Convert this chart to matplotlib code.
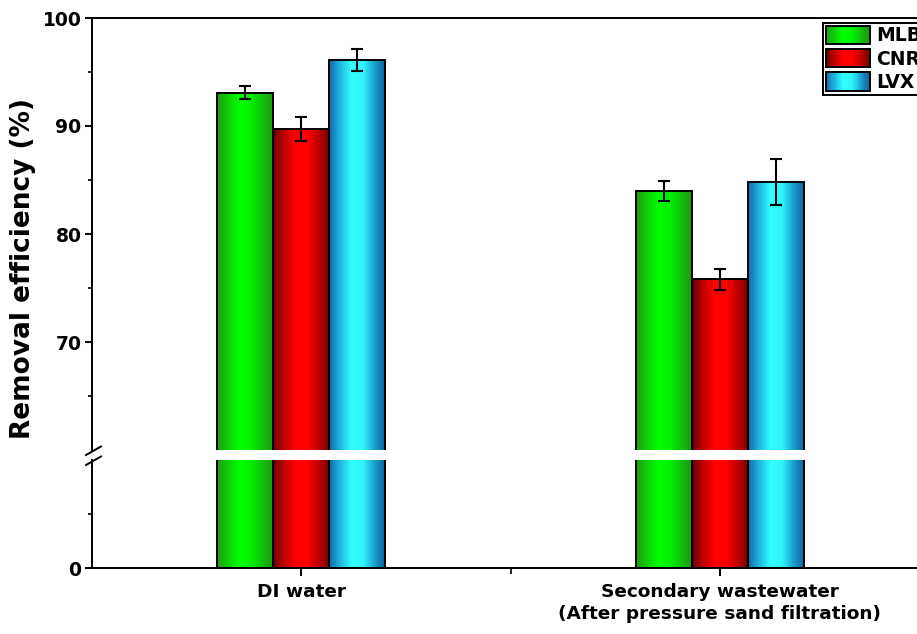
import numpy as np
import matplotlib
matplotlib.use("Agg")
import matplotlib.pyplot as plt
from matplotlib.patches import Rectangle
from matplotlib.legend_handler import HandlerBase
from matplotlib.colors import LinearSegmentedColormap

plt.rcParams["font.family"] = ["DejaVu Sans"]
plt.rcParams["font.weight"] = "bold"
plt.rcParams["axes.labelweight"] = "bold"

# ---- data ----
categories = ["DI water", "Secondary wastewater\n(After pressure sand filtration)"]
series = ["MLB", "CNR", "LVX"]
mlb = [93.1, 84.0]
mlb_err = [0.6, 0.9]
cnr = [89.7, 75.8]
cnr_err = [1.1, 1.0]
lvx = [96.1, 84.8]
lvx_err = [1.0, 2.1]
upper_ticks = [70, 80, 90, 100]
lower_ticks = [0]

values = [mlb, cnr, lvx]
errors = [mlb_err, cnr_err, lvx_err]

# cylindrical shading: dark edge -> bright middle -> dark edge
shades = {
    "MLB": ["#1e9a10", "#10d008", "#00ff00", "#00f000", "#12c00a", "#1e9410"],
    "CNR": ["#6a0000", "#c00000", "#ff0000", "#ff0000", "#c00000", "#700000"],
    "LVX": ["#1466a8", "#1fb8e0", "#33ffff", "#30f4fa", "#1aa0d0", "#0a5e98"],
}
cmaps = {k: LinearSegmentedColormap.from_list(k, v) for k, v in shades.items()}

fig = plt.figure(figsize=(9.17, 6.34), dpi=100)
W, H = 917, 634
left, right = 92 / W, 929 / W
ax_up = fig.add_axes([left, 1 - 450 / H, right - left, (450 - 18) / H])
ax_lo = fig.add_axes([left, 1 - 568 / H, right - left, (568 - 460) / H])

x = np.arange(1, len(categories) + 1)
width = 0.134
offsets = [-width, 0.0, width]
grad = np.linspace(0, 1, 256).reshape(1, -1)

for ax in (ax_up, ax_lo):
    for name, vals, errs, off in zip(series, values, errors, offsets):
        bars = ax.bar(x + off, vals, width, facecolor="none", edgecolor="black",
                      linewidth=1.4, zorder=3)
        for p in bars:
            x0, y0 = p.get_x(), p.get_y()
            ax.imshow(grad, cmap=cmaps[name], aspect="auto", zorder=2,
                      extent=[x0, x0 + p.get_width(), y0, y0 + p.get_height()],
                      interpolation="bilinear")
        ax.errorbar(x + off, vals, yerr=errs, fmt="none", ecolor="black",
                    elinewidth=1.5, capsize=4.5, capthick=1.5, zorder=4)
    ax.set_xlim(0.5, 2.5)
    for s in ax.spines.values():
        s.set_linewidth(1.4)
    ax.tick_params(axis="both", which="major", direction="out", length=5,
                   width=1.4, labelsize=13.5, pad=2.5)
    ax.tick_params(axis="both", which="minor", direction="out", length=3, width=1.2)

ax_up.set_ylim(60, 100)
ax_up.set_yticks(upper_ticks)
ax_up.set_yticks([65, 75, 85, 95], minor=True)
ax_up.spines["bottom"].set_visible(False)
ax_up.tick_params(axis="x", which="both", bottom=False, labelbottom=False)

ax_lo.set_ylim(0, 10)
ax_lo.set_yticks(lower_ticks)
ax_lo.set_yticks([5], minor=True)
ax_lo.spines["top"].set_visible(False)
ax_lo.set_xticks(x)
ax_lo.set_xticklabels(categories, fontsize=13.3, fontweight="bold", linespacing=1.3)
ax_lo.set_xticks([1.5], minor=True)
ax_lo.tick_params(axis="x", which="major", length=6, pad=5)
ax_lo.tick_params(axis="x", which="minor", length=4)

# break marks on the y axis
for yb in (450, 460):
    yf = 1 - yb / H
    fig.add_artist(plt.Line2D([left - 6 / W, left + 9 / W],
                              [yf - 5 / H, yf + 3.5 / H],
                              color="black", lw=1.4))

fig.text(23.5 / W, 1 - 268.5 / H, "Removal efficiency (%)", rotation=90,
         ha="center", va="center", fontsize=19, fontweight="bold")


class GradientHandler(HandlerBase):
    def __init__(self, cmap):
        super().__init__(xpad=0.0, ypad=0.0)
        self.cmap = cmap

    def create_artists(self, legend, orig_handle, xdescent, ydescent,
                       width, height, fontsize, trans):
        n = 40
        arts = []
        for i in range(n):
            arts.append(Rectangle((-xdescent + width * i / n, -ydescent),
                                  width / n * 1.1, height,
                                  facecolor=self.cmap((i + 0.5) / n),
                                  edgecolor="none", transform=trans))
        arts.append(Rectangle((-xdescent, -ydescent), width, height,
                              facecolor="none", edgecolor="black", lw=1.4,
                              transform=trans))
        return arts


proxies = [Rectangle((0, 0), 1, 1) for _ in series]
hmap = {p: GradientHandler(cmaps[n]) for p, n in zip(proxies, series)}
leg = fig.legend(proxies, series, handler_map=hmap, loc="upper left",
                 bbox_to_anchor=(823 / W, 1 - 23 / H), bbox_transform=fig.transFigure,
                 borderaxespad=0, prop={"weight": "bold", "size": 13.5},
                 handlelength=2.35, handleheight=1.12, labelspacing=0.2,
                 handletextpad=0.35, borderpad=0.15, fancybox=False,
                 edgecolor="black", framealpha=1)
leg.get_frame().set_linewidth(1.4)

fig.savefig("out.png", dpi=100)
